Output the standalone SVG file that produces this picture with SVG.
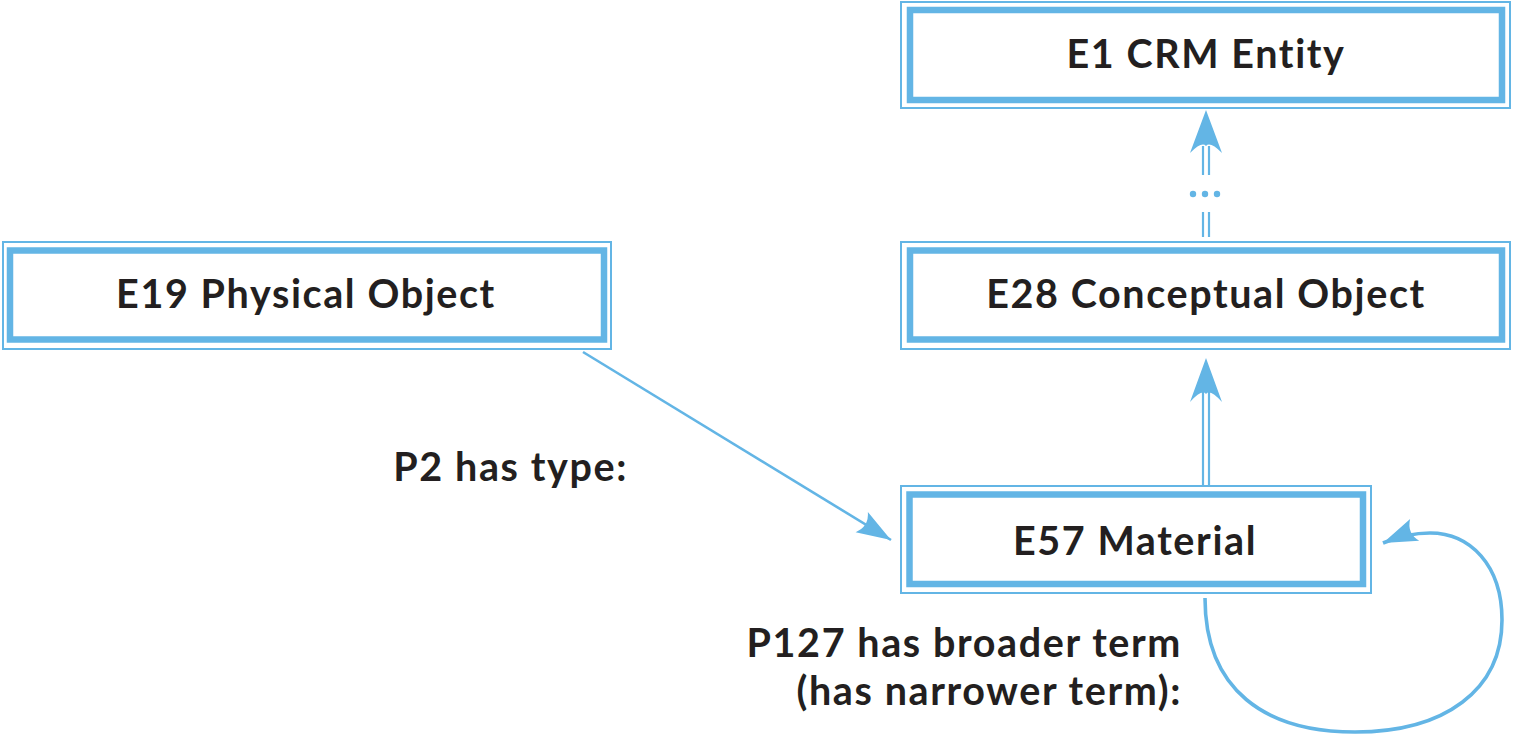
<svg xmlns="http://www.w3.org/2000/svg" width="1513" height="735" viewBox="0 0 1513 735">
<style>
.outer{fill:none;stroke:#63b5e5;stroke-width:2}
.inner{fill:#fff;stroke:#63b5e5;stroke-width:6.5}
.lbl{font-family:Lato,"Open Sans",sans-serif;font-weight:700;font-size:39.5px;letter-spacing:1.6px;fill:#231f20;text-anchor:middle}
.edge{font-family:Lato,"Open Sans",sans-serif;font-weight:700;font-size:39.5px;letter-spacing:1.6px;fill:#231f20;text-anchor:end}
.ln{stroke:#63b5e5;stroke-width:2.2;fill:none}
.head{fill:#63b5e5}
</style>
<defs>
<marker id="ah" markerUnits="userSpaceOnUse" markerWidth="40" markerHeight="30" viewBox="-34 -14 36 28" refX="0" refY="0" orient="auto">
<path d="M0,0 L-32,-11 Q-24,0 -32,11 Z" fill="#63b5e5"/>
</marker>
</defs>
<rect width="1513" height="735" fill="#fff"/>
<g id="connectors">
<g id="e28-e1">
<line class="ln" x1="1203" y1="146" x2="1203" y2="175"/>
<line class="ln" x1="1209" y1="146" x2="1209" y2="175"/>
<circle class="head" cx="1193" cy="194" r="3.2"/>
<circle class="head" cx="1205" cy="194" r="3.2"/>
<circle class="head" cx="1217" cy="194" r="3.2"/>
<line class="ln" x1="1203" y1="212" x2="1203" y2="237"/>
<line class="ln" x1="1209" y1="212" x2="1209" y2="237"/>
<path class="head" d="M1206,110 L1222,153 Q1210,141 1206,146 Q1202,141 1190,153 Z"/>
</g>
<g id="e57-e28">
<line class="ln" x1="1203" y1="392" x2="1203" y2="486"/>
<line class="ln" x1="1209" y1="392" x2="1209" y2="486"/>
<path class="head" d="M1206,358 L1222,402 Q1210,389 1206,394 Q1202,389 1190,402 Z"/>
</g>
<path id="p2" d="M583,352 L891,540" fill="none" stroke="#63b5e5" stroke-width="2.6" marker-end="url(#ah)"/>
<path id="p127" d="M1205,598 C1205,690 1265,732 1355,732 C1445,732 1502,690 1502,620 C1502,565 1470,533 1430,533 C1410,533 1395,538 1383,543" fill="none" stroke="#63b5e5" stroke-width="3.6" marker-end="url(#ah)"/>
</g>
<g id="E1">
<rect class="outer" x="901" y="2" width="609" height="106"/>
<rect class="inner" x="910" y="10" width="592" height="90"/>
<text class="lbl" x="1206" y="68">E1 CRM Entity</text>
</g>
<g id="E28">
<rect class="outer" x="901" y="242" width="609" height="107"/>
<rect class="inner" x="910" y="250.5" width="592" height="89"/>
<text class="lbl" x="1206" y="308">E28 Conceptual Object</text>
</g>
<g id="E19">
<rect class="outer" x="3" y="242" width="608" height="107"/>
<rect class="inner" x="10" y="250.5" width="594" height="89"/>
<text class="lbl" x="306" y="308">E19 Physical Object</text>
</g>
<g id="E57">
<rect class="outer" x="901" y="486" width="470" height="107"/>
<rect class="inner" x="909.5" y="494.5" width="453.5" height="89.5"/>
<text class="lbl" x="1135" y="555">E57 Material</text>
</g>
<g id="labels">
<text class="edge" x="628" y="481">P2 has type:</text>
<text class="edge" x="1182" y="657">P127 has broader term</text>
<text class="edge" x="1182" y="705">(has narrower term):</text>
</g>
</svg>
